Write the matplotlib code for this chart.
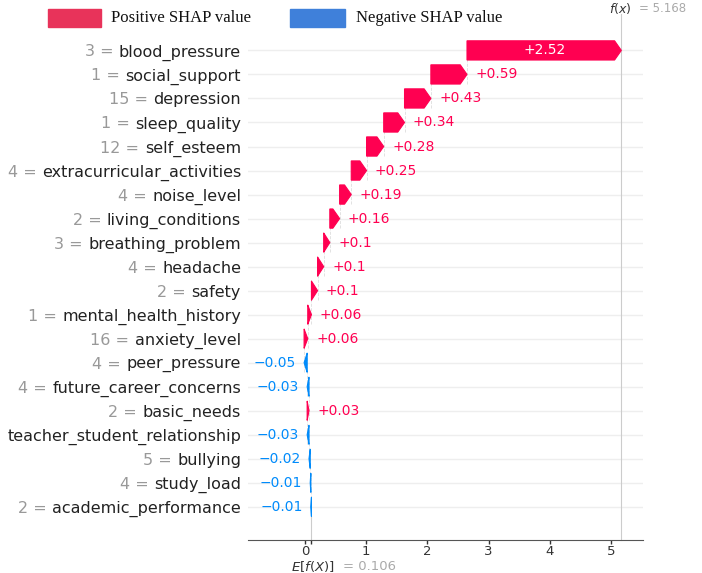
import numpy as np
import matplotlib
matplotlib.use("Agg")
import matplotlib.pyplot as plt
from matplotlib.patches import Rectangle
from matplotlib.transforms import ScaledTranslation, blended_transform_factory

# ------------------------------------------------------------
# data (top row first, as drawn)
# ------------------------------------------------------------
features = ["blood_pressure", "social_support", "depression", "sleep_quality",
            "self_esteem", "extracurricular_activities", "noise_level",
            "living_conditions", "breathing_problem", "headache", "safety",
            "mental_health_history", "anxiety_level", "peer_pressure",
            "future_career_concerns", "basic_needs",
            "teacher_student_relationship", "bullying", "study_load",
            "academic_performance"]
feature_values = ["3", "1", "15", "1", "12", "4", "4", "2", "3", "4", "2",
                  "1", "16", "4", "4", "2", "", "5", "4", "2"]
shap_values = [2.52, 0.59, 0.43, 0.34, 0.28, 0.25, 0.19, 0.16, 0.10, 0.10,
               0.10, 0.06, 0.06, -0.05, -0.03, 0.03, -0.03, -0.02, -0.01, -0.01]
base_value = 0.106
fx_value = 5.168
xticks = [0, 1, 2, 3, 4, 5]

red = "#ff0051"
blue = "#008bfb"

# ------------------------------------------------------------
# waterfall positions (accumulate from the bottom row upwards)
# ------------------------------------------------------------
n = len(features)
ypos = -np.arange(n)
starts = np.zeros(n)
cum = base_value
for i in range(n - 1, -1, -1):
    starts[i] = cum
    cum += shap_values[i]

# ------------------------------------------------------------
# figure
# ------------------------------------------------------------
W, H = 702, 573
fig = plt.figure(figsize=(W / 100, H / 100), dpi=100)
ax = fig.add_axes([248 / W, 33 / H, 395 / W, 504 / H])

xmin, xmax = -0.93, 5.52
ymin, ymax = -20.38, 0.6
ax.set_xlim(xmin, xmax)
ax.set_ylim(ymin, ymax)

# faint row lines
for y in ypos:
    ax.axhline(y, color="#eeeeee", lw=1.0, zorder=0)

bar_h = 0.8
hl = 0.11
for i in range(n):
    v = shap_values[i]
    dist = abs(v)
    col = red if v > 0 else blue
    sign = 1 if v > 0 else -1
    ax.arrow(starts[i], ypos[i], sign * max(dist - hl, 1e-6), 0,
             head_length=min(dist, hl), width=bar_h, head_width=bar_h,
             color=col, lw=0.8, zorder=3)

    # dashed connector to the row below
    if i < n - 1:
        ax.plot([starts[i], starts[i]], [ypos[i] - 1 - 0.4, ypos[i] + 0.4],
                color="#dddddd", lw=0.6, ls="--", zorder=1)

    txt = ("+" if v > 0 else "\u2212") + f"{dist:g}"
    end = starts[i] + v
    if dist > 1.0:
        ax.text(starts[i] + v / 2, ypos[i], txt, ha="center",
                va="center", fontsize=10, color="white", zorder=4)
    elif v > 0:
        ax.annotate(txt, (end, ypos[i]), xytext=(6, 0),
                    textcoords="offset points", ha="left", va="center",
                    fontsize=10, color=red)
    else:
        ax.annotate(txt, (end, ypos[i]), xytext=(-6, 0),
                    textcoords="offset points", ha="right", va="center",
                    fontsize=10, color=blue)

# vertical guide lines for E[f(X)] and f(x)
ax.plot([base_value, base_value], [ymin, ypos[-1] - 0.4],
        color="#cccccc", lw=0.8, zorder=1)
ax.plot([fx_value, fx_value], [ymin, 1.5],
        color="#cccccc", lw=0.8, zorder=1, clip_on=False)

# y labels: dark feature name, gray "value =" in front of it
ax.set_yticks(ypos)
ax.set_yticklabels(features, fontsize=11.5, color="#222222")
ax.tick_params(axis="y", length=0, pad=5)

# x axis
ax.set_xticks(xticks)
ax.set_xticks([base_value], minor=True)
ax.tick_params(axis="x", which="both", labelsize=9.5, colors="#333333",
               length=3, width=1, pad=0.5)
for s in ["top", "right", "left"]:
    ax.spines[s].set_visible(False)
ax.spines["bottom"].set_color("#555555")

fig.canvas.draw()
renderer = fig.canvas.get_renderer()
gap = ScaledTranslation(-4 / 72, 0, fig.dpi_scale_trans)
for lbl, y, fv in zip(ax.get_yticklabels(), ypos, feature_values):
    if not fv:
        continue
    bb = lbl.get_window_extent(renderer)
    xa = ax.transAxes.inverted().transform((bb.x0, 0))[0]
    ax.text(xa, y, f"{fv} =", transform=ax.get_yaxis_transform() + gap,
            ha="right", va="center_baseline", fontsize=11.5, color="#999999")

# E[f(X)] and f(x) annotations
bt = blended_transform_factory(ax.transData, fig.transFigure)
pts = lambda dx: ScaledTranslation(dx / 72, 0, fig.dpi_scale_trans)
ax.text(base_value, 7 / H, "$E[f(X)]$", transform=bt + pts(16.5),
        ha="right", va="center", fontsize=9.5, color="#333333")
ax.text(base_value, 7 / H, f"= {base_value:.3f}", transform=bt + pts(23),
        ha="left", va="center", fontsize=9.5, color="#aaaaaa")
ax.text(fx_value, 1 - 8 / H, "$f(x)$", transform=bt + pts(7.5),
        ha="right", va="center", fontsize=9, color="#333333")
ax.text(fx_value, 1 - 8 / H, f"= {fx_value:.3f}", transform=bt + pts(13),
        ha="left", va="center", fontsize=8.5, color="#aaaaaa")

# legend drawn on top of the figure
fig.add_artist(Rectangle((48 / W, 1 - 27 / H), 53 / W, 18 / H,
                         transform=fig.transFigure, color="#e8335a"))
fig.add_artist(Rectangle((290 / W, 1 - 27 / H), 55 / W, 18 / H,
                         transform=fig.transFigure, color="#3f80da"))
fig.text(111 / W, 1 - 18 / H, "Positive SHAP value", ha="left", va="center",
         fontsize=12, family="Liberation Serif", color="#111111")
fig.text(356 / W, 1 - 18 / H, "Negative SHAP value", ha="left", va="center",
         fontsize=12, family="Liberation Serif", color="#111111")

fig.savefig("out.png", dpi=100)
